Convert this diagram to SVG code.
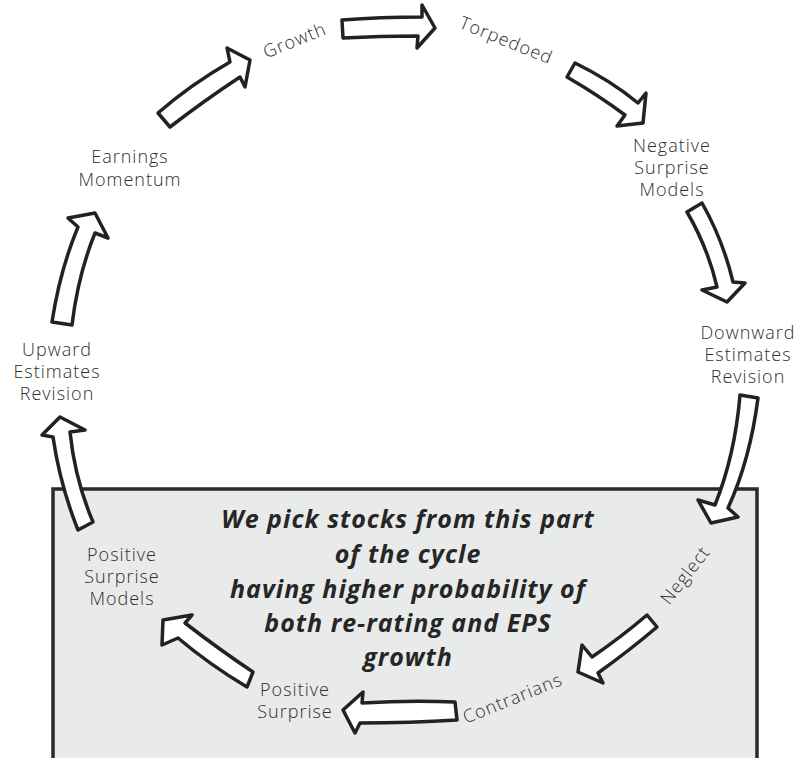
<svg xmlns="http://www.w3.org/2000/svg" width="804" height="758" viewBox="0 0 804 758">
<style>
.lbl{font-family:"Open Sans","Liberation Sans",sans-serif;font-size:18px;fill:#2e2e2e;text-anchor:middle;font-weight:300;letter-spacing:1px}
.main{font-family:"Open Sans","Liberation Sans",sans-serif;font-size:25px;font-weight:bold;font-style:italic;fill:#262626;text-anchor:middle;letter-spacing:1px}
.arr{fill:#fff;stroke:#222;stroke-width:3.5;stroke-linejoin:round}
</style>
<rect width="804" height="758" fill="#fff"/>
<rect id="zone" x="53" y="489" width="704" height="275" fill="#e9eaea" stroke="#2a2a2a" stroke-width="3.5"/>
<g id="connectors">
<path class="arr" d="M158,113 Q190,85 230,62 L227,48 L250,60 L245,87 L240,77 Q205,100 170,127 Z"/>
<path class="arr" d="M342,20 Q380,17 422,17 L422,5 L435,28 L417,48 L418,36 Q380,36 343,38 Z"/>
<path class="arr" d="M575,63 Q610,80 638,103 L646,93 L643,123 L617,126 L625,115 Q598,95 567,77 Z"/>
<path class="arr" d="M702,203 Q723,240 733,282 L745,283 L727,302 L702,290 L717,287 Q708,248 687,212 Z"/>
<path class="arr" d="M740,395 L758,398 Q750,460 728,508 L738,517 L711,523 L698,500 L715,505 Q735,455 740,395 Z"/>
<path class="arr" d="M647,615 L657,627 Q630,650 598,673 L603,683 L578,672 L582,645 L592,657 Q620,638 647,615 Z"/>
<path class="arr" d="M455,702 L457,720 Q410,723 360,723 L355,733 L343,710 L363,692 L362,703 Q410,700 455,702 Z"/>
<path class="arr" d="M253,672 L247,687 Q210,665 178,638 L162,645 L163,620 L192,615 L185,623 Q220,650 253,672 Z"/>
<path class="arr" d="M93,522 L78,530 Q60,485 53,437 L42,435 L60,417 L85,430 L70,432 Q75,480 93,522 Z"/>
<path class="arr" d="M52,322 L72,325 Q78,275 95,233 L108,238 L95,213 L68,218 L78,227 Q60,270 52,322 Z"/>
</g>
<g id="growth"><text class="lbl" transform="translate(297,46) rotate(-22)">Growth</text></g>
<g id="torpedoed"><text class="lbl" transform="translate(504,46) rotate(22)">Torpedoed</text></g>
<g id="negative"><text class="lbl"><tspan x="672" y="152">Negative</tspan><tspan x="672" y="174">Surprise</tspan><tspan x="672" y="196">Models</tspan></text></g>
<g id="downward"><text class="lbl"><tspan x="748" y="339">Downward</tspan><tspan x="748" y="361">Estimates</tspan><tspan x="748" y="383">Revision</tspan></text></g>
<g id="neglect"><text class="lbl" transform="translate(690,579) rotate(-52)">Neglect</text></g>
<g id="contrarians"><text class="lbl" transform="translate(515,704) rotate(-22)">Contrarians</text></g>
<g id="possurprise"><text class="lbl"><tspan x="295" y="696">Positive</tspan><tspan x="295" y="718">Surprise</tspan></text></g>
<g id="posmodels"><text class="lbl"><tspan x="122" y="561">Positive</tspan><tspan x="122" y="583">Surprise</tspan><tspan x="122" y="605">Models</tspan></text></g>
<g id="upward"><text class="lbl"><tspan x="57" y="356">Upward</tspan><tspan x="57" y="378">Estimates</tspan><tspan x="57" y="400">Revision</tspan></text></g>
<g id="earnings"><text class="lbl"><tspan x="130" y="163">Earnings</tspan><tspan x="130" y="186">Momentum</tspan></text></g>
<g id="note"><text class="main"><tspan x="408" y="528">We pick stocks from this part</tspan><tspan x="408" y="563">of the cycle</tspan><tspan x="408" y="598">having higher probability of</tspan><tspan x="408" y="632">both re-rating and EPS</tspan><tspan x="408" y="666">growth</tspan></text></g>
</svg>
